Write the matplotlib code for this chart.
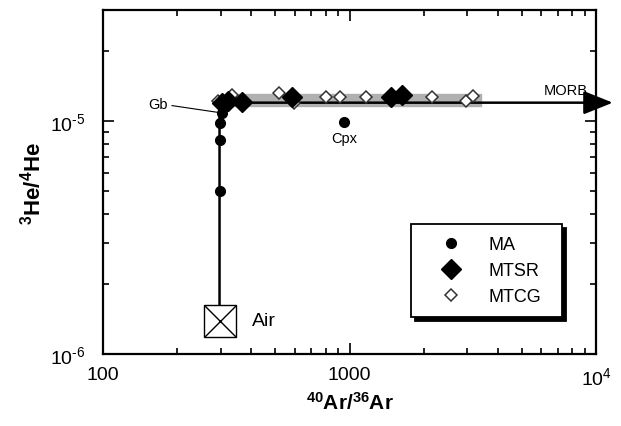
import matplotlib
matplotlib.use('Agg')
import matplotlib.pyplot as plt
from matplotlib.ticker import FixedLocator, FixedFormatter

plt.rcParams['font.family'] = ['Liberation Sans', 'DejaVu Sans']
plt.rcParams['mathtext.fontset'] = 'custom'
plt.rcParams['mathtext.rm'] = 'Liberation Sans'
plt.rcParams['mathtext.bf'] = 'Liberation Sans:bold'
plt.rcParams['mathtext.it'] = 'Liberation Sans:italic'

# data
ma_ar = [297, 297, 298, 303, 312, 318]
ma_he = [5.0e-6, 8.3e-6, 9.8e-6, 1.08e-5, 1.16e-5, 1.2e-5]
cpx_ar = [951]
cpx_he = [9.9e-6]

mtsr_ar = [305, 322, 368, 586, 1470, 1630]
mtsr_he = [1.2e-5, 1.22e-5, 1.21e-5, 1.27e-5, 1.27e-5, 1.29e-5]

mtcg_ar = [292, 335, 519, 597, 804, 916, 1166, 2155, 2958, 3155]
mtcg_he = [1.22e-5, 1.29e-5, 1.32e-5, 1.2e-5, 1.27e-5, 1.27e-5, 1.27e-5, 1.27e-5, 1.22e-5, 1.28e-5]

air_ar, air_he = 297, 1.39e-6
morb_he = 1.2e-5
band_ar = [317, 3400]
band_he = [1.16e-5, 1.31e-5]

# mixing curve air -> MORB
curve_ar = [297, 297, 299, 305, 320, 345]
curve_he = [1.39e-6, 1.08e-5, 1.15e-5, 1.185e-5, 1.2e-5, 1.2e-5]

fig = plt.figure(figsize=(6.21, 4.27), dpi=100)
ax = fig.add_axes([103/621, 1-355/427, 493/621, 344/427])
ax.set_xscale('log')
ax.set_yscale('log')
ax.set_xlim(100, 1e4)
ax.set_ylim(1e-6, 3e-5)

ax.fill_between(band_ar, band_he[0], band_he[1], color='#b0b0b0', zorder=1)

ax.plot(curve_ar, curve_he, color='k', lw=1.8, zorder=2)
ax.annotate('', xy=(11700, morb_he), xytext=(340, morb_he),
            arrowprops=dict(arrowstyle='-|>,head_length=0.5,head_width=0.2',
                            mutation_scale=36, lw=1.8, color='k',
                            shrinkA=0, shrinkB=0),
            annotation_clip=False, zorder=2)

# air end-member
ax.plot(air_ar, air_he, marker='s', ms=23, mfc='white', mec='k', mew=1.0, zorder=3)
ax.plot(air_ar, air_he, marker='x', ms=23, mec='k', mew=1.0, zorder=4)

ax.plot(mtcg_ar, mtcg_he, ls='none', marker='D', ms=6.5, mfc='white', mec='#333333',
        mew=1.1, zorder=5, label='MTCG')
ax.plot(mtsr_ar, mtsr_he, ls='none', marker='D', ms=10.5, mfc='k', mec='k', zorder=6,
        label='MTSR')
ax.plot(ma_ar + cpx_ar, ma_he + cpx_he, ls='none', marker='o', ms=7, mfc='k', mec='k',
        zorder=7, label='MA')

ax.text(401, air_he, 'Air', fontsize=14, va='center', ha='left')
ax.text(9300, 1.36e-5, 'MORB', fontsize=10.5, va='center', ha='right')
ax.text(951, 8.5e-6, 'Cpx', fontsize=10.5, va='center', ha='center')
ax.annotate('Gb', xy=(293, 1.09e-5), xytext=(183, 1.19e-5), fontsize=10.5,
            ha='right', va='center',
            arrowprops=dict(arrowstyle='-', lw=0.8, color='k', shrinkA=1, shrinkB=0))

handles, labels = ax.get_legend_handles_labels()
order = [2, 1, 0]
leg = ax.legend([handles[i] for i in order], [labels[i] for i in order],
                loc='upper left', bbox_to_anchor=(0.625, 0.1076, 0.306, 0.27),
                mode='expand', borderaxespad=0, fancybox=False,
                frameon=True, fontsize=13, handlelength=3.1, handletextpad=0.55,
                borderpad=0.65, labelspacing=0.5,
                shadow={'ox': 3, 'oy': -3, 'facecolor': 'k', 'edgecolor': 'k', 'alpha': 1})
leg.get_frame().set_edgecolor('k')
leg.get_frame().set_linewidth(1.3)
leg.get_frame().set_alpha(1)

ax.xaxis.set_major_locator(FixedLocator([100, 1000, 10000]))
ax.xaxis.set_major_formatter(FixedFormatter(['100', '1000', r'$\mathregular{10^4}$']))
ax.yaxis.set_major_locator(FixedLocator([1e-6, 1e-5]))
ax.yaxis.set_major_formatter(FixedFormatter([r'$\mathregular{10^{\text{-}6}}$',
                                             r'$\mathregular{10^{\text{-}5}}$']))

ax.tick_params(which='both', direction='in', top=True, right=True, labelsize=14, width=1.2)
ax.tick_params(which='major', length=8)
ax.tick_params(which='minor', length=4)
ax.tick_params(axis='x', which='major', pad=9)
ax.tick_params(axis='y', which='major', pad=13)
for s in ax.spines.values():
    s.set_linewidth(1.6)

ax.set_xlabel(r'$\mathbf{^{40}Ar/^{36}Ar}$', fontsize=15, labelpad=2)
ax.set_ylabel(r'$\mathbf{^{3}He/^{4}He}$', fontsize=16, labelpad=3)

fig.savefig('out.png', dpi=100)
